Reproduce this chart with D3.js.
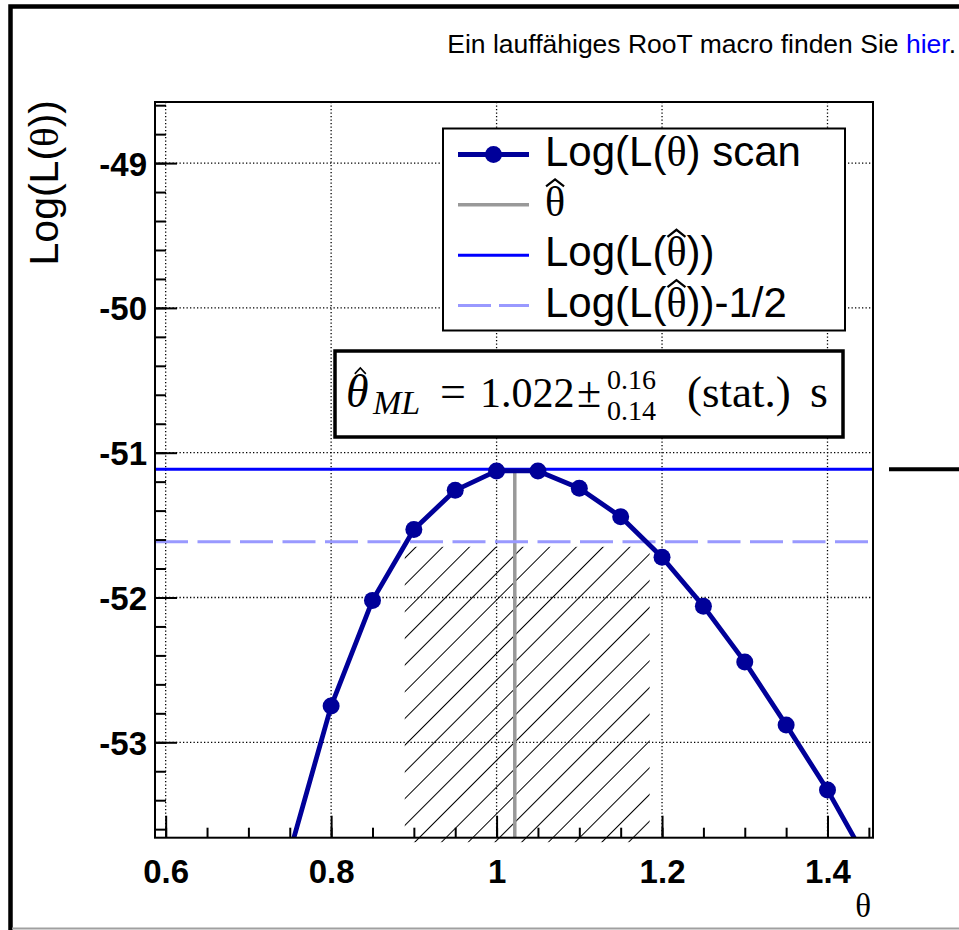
<!DOCTYPE html>
<html>
<head>
<meta charset="utf-8">
<script src="https://cdn.jsdelivr.net/npm/d3@7"></script>
<style>
  body { margin: 0; background: #fff; }
</style>
</head>
<body>
<div class="chart"></div>
<script>
// likelihood scan
const thetaScan = [0.75, 0.8, 0.85, 0.9, 0.95, 1.0, 1.05, 1.1, 1.15, 1.2, 1.25, 1.3, 1.35, 1.4, 1.45];
const logLScan = [-53.76, -52.75, -52.02, -51.53, -51.26, -51.126, -51.126, -51.246, -51.442, -51.722, -52.06, -52.445, -52.88, -53.33, -53.84];

const thetaHat = 1.022;
const logLMax = -51.115;
const hatchTheta = [0.889, 1.185];
const hatchLogL = [-51.65, -53.69];

const xTicks = [0.6, 0.8, 1.0, 1.2, 1.4];
const yTicks = [-49, -50, -51, -52, -53];
const xMinor = d3.range(0.6, 1.4501, 0.05);
const yMinor = d3.range(-53.6, -48.5, 0.2);

// [before, theta, hat?, after]
const legendLabels = [
  ['Log(L(', 'θ', false, ') scan'],
  ['', 'θ', true, ''],
  ['Log(L(', 'θ', true, '))'],
  ['Log(L(', 'θ', true, '))-1/2']
];

const colors = {
  scan: '#000099',
  hat: '#999999',
  max: '#0000ff',
  half: '#9999ff'
};

const chartWidth = 959;
const chartHeight = 930;

const frame = { left: 155, right: 873, top: 102, bottom: 837.7 };

const svg = d3.select('.chart')
  .append('svg')
  .attr('width', chartWidth)
  .attr('height', chartHeight)
  .style('display', 'block');

const sans = '"Liberation Sans", Arial, sans-serif';
const serif = '"Liberation Serif", "Times New Roman", serif';

// draws a circumflex over a character of a text node
const drawHat = (textSel, charIndex, fontSize, opts) => {
  const node = textSel.node();
  const s = node.getStartPositionOfChar(charIndex);
  const e = node.getEndPositionOfChar(charIndex);
  const cx = (s.x + e.x) / 2 + (opts.shift || 0);
  const top = s.y - fontSize * opts.rise;
  const w = opts.w, h = opts.h;
  textSel.select(function () { return this.parentNode; })
    .append('path')
    .attr('d', `M${cx - w / 2},${top} L${cx},${top - h} L${cx + w / 2},${top}`)
    .attr('fill', 'none')
    .attr('stroke', '#000')
    .attr('stroke-width', opts.sw)
    .attr('stroke-linejoin', 'miter');
};

// canvas border
svg.append('path')
  .attr('d', `M10.5,930 L10.5,6.5 L959,6.5`)
  .attr('fill', 'none')
  .attr('stroke', '#000')
  .attr('stroke-width', 4.5);
svg.append('line')
  .attr('x1', 12).attr('x2', 959)
  .attr('y1', 928.5).attr('y2', 928.5)
  .attr('stroke', '#a0a0a0')
  .attr('stroke-width', 2);

// header text
const header = svg.append('text')
  .attr('x', 956)
  .attr('y', 53)
  .attr('text-anchor', 'end')
  .attr('font-family', sans)
  .attr('font-size', '26.5px')
  .style('fill', '#000');
header.append('tspan').text('Ein lauffähiges RooT macro finden Sie ');
header.append('tspan').text('hier').style('fill', '#0000ff');
header.append('tspan').text('.');

const xScale = d3.scaleLinear()
  .domain([0.5871, 1.455])
  .range([frame.left, frame.right]);

const yScale = d3.scaleLinear()
  .domain([-53.659, -48.578])
  .range([frame.bottom, frame.top]);

svg.append('defs').append('clipPath')
  .attr('id', 'frameClip')
  .append('rect')
  .attr('x', frame.left)
  .attr('y', frame.top)
  .attr('width', frame.right - frame.left)
  .attr('height', frame.bottom - frame.top);

const hatch = svg.select('defs').append('pattern')
  .attr('id', 'hatch')
  .attr('patternUnits', 'userSpaceOnUse')
  .attr('width', 18.9)
  .attr('height', 10)
  .attr('patternTransform', 'rotate(45)');
hatch.append('line')
  .attr('x1', 0.5).attr('x2', 0.5)
  .attr('y1', 0).attr('y2', 10)
  .attr('stroke', '#000')
  .attr('stroke-width', 1);

// grid
const grid = svg.append('g')
  .attr('stroke', '#000')
  .attr('stroke-width', 1.3)
  .attr('stroke-dasharray', '1.3,2.2');
grid.selectAll('.gx')
  .data(xTicks)
  .enter()
  .append('line')
  .attr('x1', d => xScale(d)).attr('x2', d => xScale(d))
  .attr('y1', frame.top).attr('y2', frame.bottom);
grid.selectAll('.gy')
  .data(yTicks)
  .enter()
  .append('line')
  .attr('x1', frame.left).attr('x2', frame.right)
  .attr('y1', d => yScale(d)).attr('y2', d => yScale(d));

// hatched interval
svg.append('rect')
  .attr('x', xScale(hatchTheta[0]))
  .attr('y', yScale(hatchLogL[0]))
  .attr('width', xScale(hatchTheta[1]) - xScale(hatchTheta[0]))
  .attr('height', yScale(hatchLogL[1]) - yScale(hatchLogL[0]))
  .attr('fill', 'url(#hatch)');

const plot = svg.append('g').attr('clip-path', 'url(#frameClip)');

// theta hat
plot.append('line')
  .attr('x1', xScale(thetaHat)).attr('x2', xScale(thetaHat))
  .attr('y1', yScale(logLMax)).attr('y2', frame.bottom)
  .attr('stroke', colors.hat)
  .attr('stroke-width', 3.5);

// max and max - 1/2
plot.append('line')
  .attr('x1', frame.left).attr('x2', frame.right)
  .attr('y1', yScale(logLMax)).attr('y2', yScale(logLMax))
  .attr('stroke', colors.max)
  .attr('stroke-width', 3);
plot.append('line')
  .attr('x1', frame.left).attr('x2', frame.right)
  .attr('y1', yScale(logLMax - 0.5)).attr('y2', yScale(logLMax - 0.5))
  .attr('stroke', colors.half)
  .attr('stroke-width', 3)
  .attr('stroke-dasharray', '33,9.5');

// scan
const scanData = thetaScan.map((t, i) => ({ t, v: logLScan[i] }));
const line = d3.line()
  .x(d => xScale(d.t))
  .y(d => yScale(d.v));
plot.append('path')
  .datum(scanData)
  .attr('d', line)
  .attr('fill', 'none')
  .attr('stroke', colors.scan)
  .attr('stroke-width', 4.8)
  .attr('stroke-linejoin', 'round');
plot.selectAll('circle')
  .data(scanData)
  .enter()
  .append('circle')
  .attr('cx', d => xScale(d.t))
  .attr('cy', d => yScale(d.v))
  .attr('r', 8.5)
  .attr('fill', colors.scan);

// frame
svg.append('rect')
  .attr('x', frame.left)
  .attr('y', frame.top)
  .attr('width', frame.right - frame.left)
  .attr('height', frame.bottom - frame.top)
  .attr('fill', 'none')
  .attr('stroke', '#000')
  .attr('stroke-width', 2);

// axes, ticks inward like ROOT
const styleAxis = (g) => {
  g.select('.domain').remove();
  g.selectAll('line').attr('stroke', '#000').attr('stroke-width', 2);
  g.attr('font-family', sans).attr('font-size', null);
};

const xAxisG = svg.append('g')
  .attr('transform', `translate(0, ${frame.bottom})`)
  .call(d3.axisBottom(xScale).tickValues(xTicks).tickSizeInner(-22).tickSizeOuter(0)
    .tickFormat(d => String(d)))
  .call(styleAxis);
xAxisG.selectAll('text')
  .attr('y', 45)
  .attr('dy', null)
  .attr('font-size', '33px')
  .attr('font-weight', 'bold')
  .style('fill', '#000');

svg.append('g')
  .attr('transform', `translate(0, ${frame.bottom})`)
  .call(d3.axisBottom(xScale).tickValues(xMinor).tickSizeInner(-10).tickSizeOuter(0).tickFormat(''))
  .call(styleAxis);

const yAxisG = svg.append('g')
  .attr('transform', `translate(${frame.left}, 0)`)
  .call(d3.axisLeft(yScale).tickValues(yTicks).tickSizeInner(-22).tickSizeOuter(0)
    .tickFormat(d => String(d)))
  .call(styleAxis);
yAxisG.selectAll('text')
  .attr('x', -8)
  .attr('dy', null)
  .attr('y', 12)
  .attr('font-size', '33px')
  .attr('font-weight', 'bold')
  .style('fill', '#000');

svg.append('g')
  .attr('transform', `translate(${frame.left}, 0)`)
  .call(d3.axisLeft(yScale).tickValues(yMinor).tickSizeInner(-11).tickSizeOuter(0).tickFormat(''))
  .call(styleAxis);

// axis titles
const yTitle = svg.append('text')
  .attr('transform', 'translate(58, 100) rotate(-90)')
  .attr('text-anchor', 'end')
  .attr('font-family', sans)
  .attr('font-size', '41px')
  .style('fill', '#000');
yTitle.append('tspan').text('Log(L(');
yTitle.append('tspan').attr('font-family', serif).text('θ');
yTitle.append('tspan').text('))');

svg.append('text')
  .attr('x', 871)
  .attr('y', 917)
  .attr('text-anchor', 'end')
  .attr('font-family', serif)
  .attr('font-size', '33px')
  .style('fill', '#000')
  .text('θ');

// right edge stub
svg.append('line')
  .attr('x1', 889).attr('x2', 959)
  .attr('y1', yScale(logLMax)).attr('y2', yScale(logLMax))
  .attr('stroke', '#000')
  .attr('stroke-width', 4);

// legend
const legend = svg.append('g');
legend.append('rect')
  .attr('x', 443)
  .attr('y', 128.5)
  .attr('width', 402)
  .attr('height', 202)
  .attr('fill', '#fff')
  .attr('stroke', '#000')
  .attr('stroke-width', 2);

const legendY = d3.scalePoint()
  .domain(d3.range(legendLabels.length))
  .range([154.5, 305.5]);

const legendStyles = [
  { stroke: colors.scan, width: 4.8, dash: null, marker: true },
  { stroke: colors.hat, width: 3.5, dash: null, marker: false },
  { stroke: colors.max, width: 3, dash: null, marker: false },
  { stroke: colors.half, width: 3, dash: '33,8', marker: false }
];

const legendFont = 42;
legendLabels.forEach((parts, i) => {
  const y = legendY(i);
  const s = legendStyles[i];
  legend.append('line')
    .attr('x1', 458).attr('x2', 529)
    .attr('y1', y).attr('y2', y)
    .attr('stroke', s.stroke)
    .attr('stroke-width', s.width)
    .attr('stroke-dasharray', s.dash);
  if (s.marker) {
    legend.append('circle')
      .attr('cx', 493.5).attr('cy', y).attr('r', 8.5)
      .attr('fill', s.stroke);
  }
  const t = legend.append('text')
    .attr('x', 545)
    .attr('y', y + 11)
    .attr('font-family', sans)
    .attr('font-size', legendFont + 'px')
    .style('fill', '#000');
  t.append('tspan').text(parts[0]);
  t.append('tspan').attr('font-family', serif).text(parts[1]);
  t.append('tspan').text(parts[3]);
  if (parts[2]) {
    drawHat(t, parts[0].length, legendFont, { rise: 0.7, w: 18, h: 7, sw: 2.2, shift: 0 });
  }
});

// fit result box
svg.append('rect')
  .attr('x', 335)
  .attr('y', 351)
  .attr('width', 508)
  .attr('height', 86)
  .attr('fill', '#fff')
  .attr('stroke', '#000')
  .attr('stroke-width', 3.5);

const resultParts = [
  { text: 'θ', x: 346, y: 407, size: 46, italic: true, hat: true },
  { text: 'ML', x: 373, y: 414, size: 34, italic: true },
  { text: '=', x: 440, y: 407, size: 46, italic: false },
  { text: '1.022', x: 480, y: 407, size: 42, italic: false },
  { text: '±', x: 577, y: 407, size: 44, italic: false },
  { text: '0.16', x: 607, y: 389, size: 28, italic: false },
  { text: '0.14', x: 607, y: 420, size: 28, italic: false },
  { text: '(stat.)', x: 687, y: 407, size: 45, italic: false },
  { text: 's', x: 810, y: 407, size: 46, italic: false }
];
const resultG = svg.append('g');
resultParts.forEach(d => {
  const t = resultG.append('text')
    .attr('x', d.x)
    .attr('y', d.y)
    .attr('font-family', serif)
    .attr('font-size', d.size + 'px')
    .attr('font-style', d.italic ? 'italic' : 'normal')
    .style('fill', '#000')
    .text(d.text);
  if (d.hat) {
    drawHat(t, 0, d.size, { rise: 0.72, w: 11, h: 6, sw: 1.6, shift: 3 });
  }
});
</script>
</body>
</html>
